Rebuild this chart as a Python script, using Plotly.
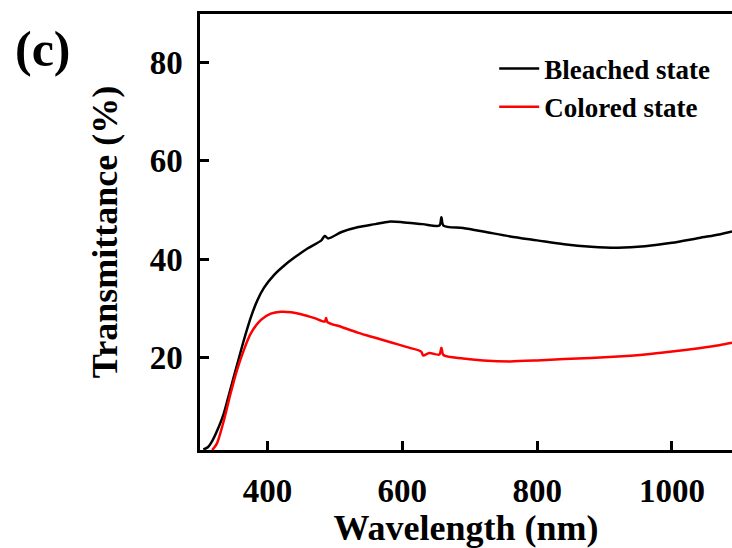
import plotly.graph_objects as go

# Bleached state (wavelength nm, transmittance %)
bleached_wl = [305, 312, 318, 325, 335, 345, 355, 365, 375, 385, 395, 410, 425, 440, 460,
               480, 485, 490, 510, 535, 560, 580, 600, 630, 655, 658, 661, 690, 720, 760,
               800, 840, 880, 920, 960, 1000, 1040, 1070, 1089]
bleached_t = [1.3, 1.8, 3.0, 5.0, 8.5, 13.5, 18.5, 23.5, 28.0, 31.6, 34.2, 36.8, 38.7, 40.3, 42.2,
              43.8, 44.7, 44.2, 45.5, 46.5, 47.1, 47.6, 47.5, 47.1, 46.8, 48.5, 46.8, 46.3, 45.6, 44.6,
              43.8, 43.0, 42.5, 42.3, 42.6, 43.3, 44.3, 45.0, 45.6]

# Colored state
colored_wl = [318, 325, 335, 345, 355, 365, 375, 390, 405, 420, 435, 450, 470, 485, 487,
              489, 510, 535, 560, 585, 610, 628, 631, 640, 655, 658, 661, 690, 720, 760,
              800, 840, 880, 920, 960, 1000, 1040, 1070, 1089]
colored_t = [1.2, 2.5, 7.0, 12.5, 17.5, 21.5, 24.8, 27.6, 28.9, 29.3, 29.2, 28.8, 28.0, 27.3, 28.0,
             27.2, 26.2, 25.0, 24.0, 23.0, 22.0, 21.2, 20.4, 20.9, 20.6, 22.0, 20.5, 19.8, 19.4, 19.2,
             19.4, 19.7, 19.9, 20.2, 20.6, 21.2, 21.9, 22.5, 23.0]

x_ticks = [400, 600, 800, 1000]
y_ticks = [20, 40, 60, 80]

FONT = "Liberation Serif, Times New Roman, serif"

fig = go.Figure()
fig.add_trace(go.Scatter(x=bleached_wl, y=bleached_t, mode="lines", name="Bleached state",
                         line=dict(color="black", width=2.5, shape="spline", smoothing=0.8)))
fig.add_trace(go.Scatter(x=colored_wl, y=colored_t, mode="lines", name="Colored state",
                         line=dict(color="red", width=2.5, shape="spline", smoothing=0.8)))

fig.update_layout(
    width=732, height=548,
    margin=dict(l=200, r=0, t=14, b=98),
    paper_bgcolor="white", plot_bgcolor="white",
    font=dict(family=FONT, color="black", weight="bold"),
    showlegend=True,
    legend=dict(x=0.553, y=0.93, xanchor="left", yanchor="top",
                font=dict(family=FONT, size=27, color="black", weight="bold"),
                bgcolor="rgba(0,0,0,0)", tracegroupgap=0, itemwidth=40),
    xaxis=dict(range=[300, 1089], tickvals=x_ticks, ticks="inside", ticklen=9, tickwidth=2.5,
               tickcolor="black", showline=True, linewidth=2.5, linecolor="black", mirror=True,
               showgrid=False, zeroline=False, ticklabelstandoff=10,
               tickfont=dict(family=FONT, size=33, color="black", weight="bold"),
               title=dict(text="Wavelength (nm)", standoff=6,
                          font=dict(family=FONT, size=36, color="black", weight="bold"))),
    yaxis=dict(range=[1.2, 89.8], tickvals=y_ticks, ticks="inside", ticklen=9, tickwidth=2.5,
               tickcolor="black", showline=True, linewidth=2.5, linecolor="black", mirror=False,
               showgrid=False, zeroline=False, ticklabelstandoff=8,
               tickfont=dict(family=FONT, size=33, color="black", weight="bold"),
               title=dict(text="Transmittance (%)", standoff=22,
                          font=dict(family=FONT, size=36, color="black", weight="bold"))),
    annotations=[dict(text="(c)", xref="paper", yref="paper", x=-0.3515, y=0.989,
                      xanchor="left", yanchor="top", showarrow=False,
                      font=dict(family=FONT, size=50, color="black", weight="bold"))],
)

fig.write_html("out.html")
